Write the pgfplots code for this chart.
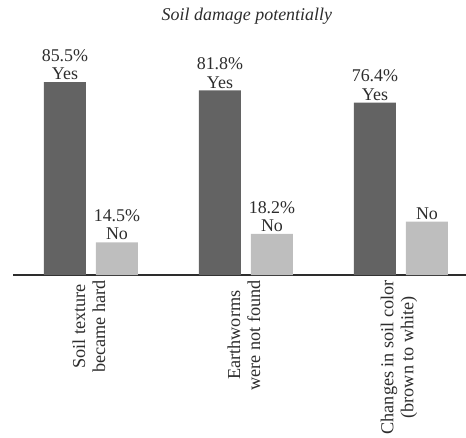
\documentclass[border=0pt]{standalone}
\usepackage{pgfplots}
\pgfplotsset{compat=1.18}
\usepackage{fontspec}
\setmainfont{Liberation Serif}
\definecolor{yesbar}{RGB}{99,99,99}
\definecolor{nobar}{RGB}{190,190,190}
\definecolor{txt}{RGB}{45,45,45}
\begin{document}
\begin{tikzpicture}
\path[use as bounding box] (-13bp,-163bp) rectangle (453bp,275bp);
\begin{axis}[
    anchor=south west, at={(0,0)},
    x=155bp, y=2.257bp,
    xmin=-0.503, xmax=2.419, ymin=0, ymax=100,
    axis x line*=bottom, axis y line=none,
    x axis line style={draw=txt, line width=1.2bp},
    ybar=10bp, bar width=42bp,
    xtick={0,1,2},
    xticklabels={{Soil texture\\became hard},{Earthworms\\were not found},{Changes in soil color\\(brown to white)}},
    xticklabel style={yshift=-1.5bp, xshift=-2bp, rotate=90, anchor=east, align=center,
        font=\fontsize{18.3}{20}\selectfont, text=txt},
    major tick length=0,
    clip=false,
    point meta=explicit symbolic,
    nodes near coords,
    nodes near coords style={align=center, anchor=south, inner sep=2bp,
        font=\fontsize{18}{18.5}\selectfont, text=txt},
    title={Soil damage potentially},
    title style={at={(axis cs:1.006,112)}, anchor=center,
        font=\itshape\fontsize{18}{20}\selectfont, text=txt},
]
\addplot[fill=yesbar, draw=none]
    coordinates {(0,85.5)[85.5\%\\Yes] (1,81.8)[81.8\%\\Yes] (2,76.4)[76.4\%\\Yes]};
\addplot[fill=nobar, draw=none]
    coordinates {(0,14.5)[14.5\%\\No] (1,18.2)[18.2\%\\No] (2,23.6)[No]};
\end{axis}
\end{tikzpicture}
\end{document}
